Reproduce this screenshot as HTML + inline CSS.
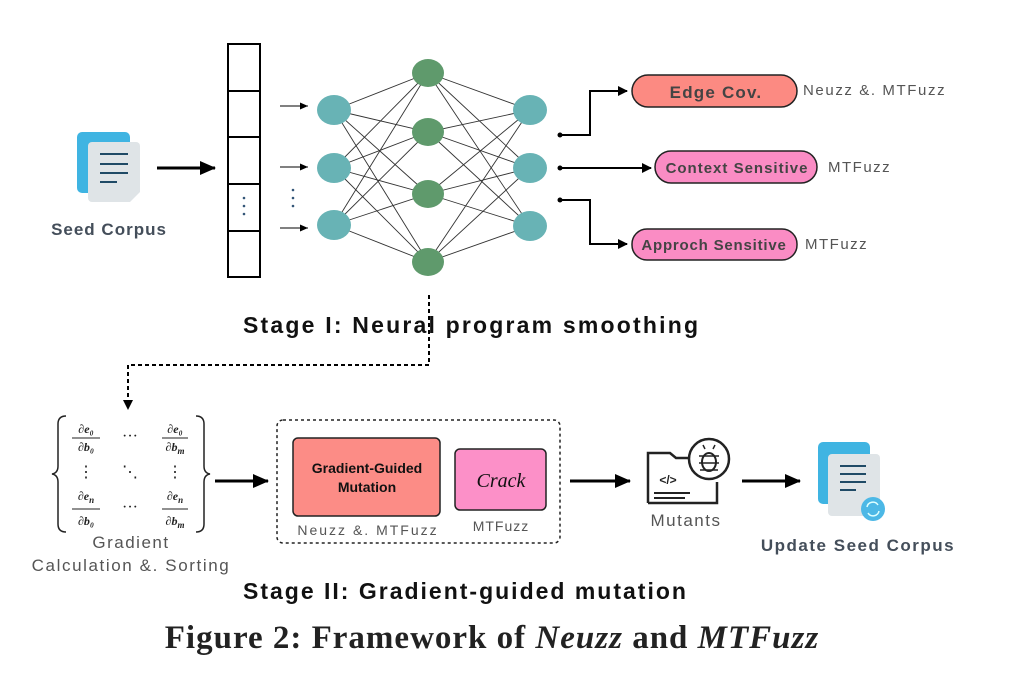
<!DOCTYPE html>
<html><head><meta charset="utf-8"><style>
html,body{margin:0;padding:0;background:#fff;}
svg{display:block;}
.s{font-family:"Liberation Sans","DejaVu Sans",sans-serif;}
</style></head><body>
<svg width="1019" height="685" viewBox="0 0 1019 685" xmlns="http://www.w3.org/2000/svg">
<defs>
<marker id="ah" markerWidth="10" markerHeight="10" refX="9" refY="5" orient="auto" markerUnits="userSpaceOnUse"><path d="M0,0 L10,5 L0,10 z" fill="#000"/></marker>
<marker id="ab" markerWidth="16" markerHeight="14" refX="15" refY="7" orient="auto" markerUnits="userSpaceOnUse"><path d="M0,0 L16,7 L0,14 z" fill="#000"/></marker>
<marker id="as" markerWidth="8" markerHeight="7" refX="8" refY="3.5" orient="auto" markerUnits="userSpaceOnUse"><path d="M0,0 L8,3.5 L0,7 z" fill="#000"/></marker>
</defs>
<!-- Seed corpus -->
<rect x="77" y="132" width="53" height="61" rx="5" fill="#3fb4e2"/>
<path d="M88,146 a4,4 0 0 1 4,-4 h44 a4,4 0 0 1 4,4 v46 l-10,10 h-38 a4,4 0 0 1 -4,-4 z" fill="#dfe4e7"/>
<g stroke="#1f4a66" stroke-width="2"><line x1="100" y1="154" x2="128" y2="154"/><line x1="100" y1="164" x2="128" y2="164"/><line x1="100" y1="173" x2="128" y2="173"/><line x1="100" y1="182" x2="117" y2="182"/></g>
<text x="109" y="235" text-anchor="middle" class="s" font-size="17" font-weight="bold" fill="#444e5a" letter-spacing="1">Seed Corpus</text>
<line x1="157" y1="168" x2="215" y2="168" stroke="#000" stroke-width="3" marker-end="url(#ab)"/>
<!-- vector -->
<g fill="none" stroke="#000" stroke-width="2"><rect x="228" y="44" width="32" height="233"/><line x1="228" y1="91" x2="260" y2="91"/><line x1="228" y1="137" x2="260" y2="137"/><line x1="228" y1="184" x2="260" y2="184"/><line x1="228" y1="231" x2="260" y2="231"/></g>
<g fill="#335577"><circle cx="244" cy="198" r="1.3"/><circle cx="244" cy="206" r="1.3"/><circle cx="244" cy="214" r="1.3"/><circle cx="293" cy="190" r="1.3"/><circle cx="293" cy="198" r="1.3"/><circle cx="293" cy="206" r="1.3"/></g>
<g stroke="#000" stroke-width="1"><line x1="280" y1="106" x2="308" y2="106" marker-end="url(#as)"/><line x1="280" y1="167" x2="308" y2="167" marker-end="url(#as)"/><line x1="280" y1="228" x2="308" y2="228" marker-end="url(#as)"/></g>
<!-- network edges -->
<g stroke="#333" stroke-width="0.9">
<line x1="334" y1="110" x2="428" y2="73"/><line x1="334" y1="110" x2="428" y2="132"/><line x1="334" y1="110" x2="428" y2="194"/><line x1="334" y1="110" x2="428" y2="262"/>
<line x1="334" y1="168" x2="428" y2="73"/><line x1="334" y1="168" x2="428" y2="132"/><line x1="334" y1="168" x2="428" y2="194"/><line x1="334" y1="168" x2="428" y2="262"/>
<line x1="334" y1="225" x2="428" y2="73"/><line x1="334" y1="225" x2="428" y2="132"/><line x1="334" y1="225" x2="428" y2="194"/><line x1="334" y1="225" x2="428" y2="262"/>
<line x1="530" y1="110" x2="428" y2="73"/><line x1="530" y1="110" x2="428" y2="132"/><line x1="530" y1="110" x2="428" y2="194"/><line x1="530" y1="110" x2="428" y2="262"/>
<line x1="530" y1="168" x2="428" y2="73"/><line x1="530" y1="168" x2="428" y2="132"/><line x1="530" y1="168" x2="428" y2="194"/><line x1="530" y1="168" x2="428" y2="262"/>
<line x1="530" y1="226" x2="428" y2="73"/><line x1="530" y1="226" x2="428" y2="132"/><line x1="530" y1="226" x2="428" y2="194"/><line x1="530" y1="226" x2="428" y2="262"/>
</g>
<g fill="#68b3b5"><ellipse cx="334" cy="110" rx="17" ry="15"/><ellipse cx="334" cy="168" rx="17" ry="15"/><ellipse cx="334" cy="225" rx="17" ry="15"/><ellipse cx="530" cy="110" rx="17" ry="15"/><ellipse cx="530" cy="168" rx="17" ry="15"/><ellipse cx="530" cy="226" rx="17" ry="15"/></g>
<g fill="#5f9a6c"><ellipse cx="428" cy="73" rx="16" ry="14"/><ellipse cx="428" cy="132" rx="16" ry="14"/><ellipse cx="428" cy="194" rx="16" ry="14"/><ellipse cx="428" cy="262" rx="16" ry="14"/></g>
<!-- outputs -->
<g stroke="#000" stroke-width="2" fill="none">
<path d="M560,135 H590 V91 H627" marker-end="url(#ah)"/>
<path d="M560,168 H651" marker-end="url(#ah)"/>
<path d="M560,200 H590 V244 H627" marker-end="url(#ah)"/>
</g>
<g fill="#000"><circle cx="560" cy="135" r="2.5"/><circle cx="560" cy="168" r="2.5"/><circle cx="560" cy="200" r="2.5"/></g>
<rect x="632" y="75" width="165" height="32" rx="16" fill="#fc8a82" stroke="#222" stroke-width="1.5"/>
<text x="716" y="98" text-anchor="middle" class="s" font-size="17" font-weight="bold" fill="#444" letter-spacing="1.2">Edge Cov.</text>
<rect x="655" y="151" width="162" height="32" rx="16" fill="#fa8cc4" stroke="#222" stroke-width="1.5"/>
<text x="737" y="173" text-anchor="middle" class="s" font-size="15" font-weight="bold" fill="#444" letter-spacing="1">Context Sensitive</text>
<rect x="632" y="229" width="165" height="31" rx="15" fill="#fa8cc4" stroke="#222" stroke-width="1.5"/>
<text x="714" y="250" text-anchor="middle" class="s" font-size="15" font-weight="bold" fill="#444" letter-spacing="0.8">Approch Sensitive</text>
<text x="803" y="95" class="s" font-size="15" fill="#555" letter-spacing="1.6">Neuzz &amp;. MTFuzz</text>
<text x="828" y="172" class="s" font-size="15" fill="#555" letter-spacing="1.5">MTFuzz</text>
<text x="805" y="249" class="s" font-size="15" fill="#555" letter-spacing="1.5">MTFuzz</text>
<text x="243" y="333" class="s" font-size="23" font-weight="bold" fill="#111" letter-spacing="2.2">Stage I: Neural program smoothing</text>
<path d="M429,295 V365 H128 V406" fill="none" stroke="#000" stroke-width="2" stroke-dasharray="4,3"/>
<path d="M123,400 L128,410 L133,400 z" fill="#000"/>
<!-- matrix -->
<g font-family="Liberation Serif,serif" font-style="italic" font-weight="bold" font-size="12" fill="#222" text-anchor="middle">
<text x="86" y="433">∂e₀</text><text x="86" y="451">∂b₀</text>
<text x="175" y="433">∂e₀</text><text x="175" y="451">∂b<tspan font-size="9" dy="3">m</tspan></text>
<text x="86" y="500">∂e<tspan font-size="9" dy="3">n</tspan></text><text x="86" y="525">∂b₀</text>
<text x="175" y="500">∂e<tspan font-size="9" dy="3">n</tspan></text><text x="175" y="525">∂b<tspan font-size="9" dy="3">m</tspan></text>
</g>
<g stroke="#222" stroke-width="1"><line x1="72" y1="438" x2="100" y2="438"/><line x1="162" y1="438" x2="188" y2="438"/><line x1="72" y1="509" x2="100" y2="509"/><line x1="162" y1="509" x2="188" y2="509"/></g>
<g font-family="Liberation Serif,serif" font-size="16" fill="#222" text-anchor="middle"><text x="130" y="441">···</text><text x="130" y="512">···</text><text x="86" y="477">⋮</text><text x="175" y="477">⋮</text><text x="130" y="477">⋱</text></g>
<path d="M66,416 Q58,416 58,424 V466 Q58,473 52,474 Q58,475 58,482 V524 Q58,532 66,532" fill="none" stroke="#222" stroke-width="1.5"/>
<path d="M196,416 Q204,416 204,424 V466 Q204,473 210,474 Q204,475 204,482 V524 Q204,532 196,532" fill="none" stroke="#222" stroke-width="1.5"/>
<text x="131" y="548" text-anchor="middle" class="s" font-size="17" fill="#555" letter-spacing="1.5">Gradient</text>
<text x="131" y="571" text-anchor="middle" class="s" font-size="17" fill="#555" letter-spacing="1.6">Calculation &amp;. Sorting</text>
<line x1="215" y1="481" x2="268" y2="481" stroke="#000" stroke-width="3" marker-end="url(#ab)"/>
<rect x="277" y="420" width="283" height="123" rx="6" fill="none" stroke="#222" stroke-width="1.5" stroke-dasharray="3,3"/>
<rect x="293" y="438" width="147" height="78" rx="5" fill="#fc8c86" stroke="#222" stroke-width="1.5"/>
<text x="367" y="473" text-anchor="middle" class="s" font-size="14" font-weight="bold" fill="#111">Gradient-Guided</text>
<text x="367" y="492" text-anchor="middle" class="s" font-size="14" font-weight="bold" fill="#111">Mutation</text>
<rect x="455" y="449" width="91" height="61" rx="5" fill="#fc90c8" stroke="#222" stroke-width="1.5"/>
<text x="501" y="487" text-anchor="middle" font-family="Liberation Serif,serif" font-style="italic" font-size="20" fill="#111">Crack</text>
<text x="368" y="535" text-anchor="middle" class="s" font-size="14" fill="#555" letter-spacing="2">Neuzz &amp;. MTFuzz</text>
<text x="501" y="531" text-anchor="middle" class="s" font-size="14" fill="#555" letter-spacing="1">MTFuzz</text>
<line x1="570" y1="481" x2="630" y2="481" stroke="#000" stroke-width="3" marker-end="url(#ab)"/>
<!-- mutants icon -->
<path d="M648,503 V453 H670 L676,458 H690" fill="none" stroke="#222" stroke-width="2.5"/>
<path d="M648,503 H717 V482" fill="none" stroke="#222" stroke-width="2.5"/>
<text x="668" y="484" text-anchor="middle" class="s" font-size="12" font-weight="bold" fill="#222">&lt;/&gt;</text>
<g stroke="#222" stroke-width="2"><line x1="654" y1="493" x2="690" y2="493"/><line x1="654" y1="498" x2="685" y2="498"/></g>
<circle cx="709" cy="459" r="20" fill="#fff" stroke="#222" stroke-width="2.5"/>
<ellipse cx="709" cy="462" rx="7" ry="9" fill="none" stroke="#222" stroke-width="2"/>
<g stroke="#222" stroke-width="1.5"><line x1="699" y1="456" x2="719" y2="456"/><line x1="699" y1="463" x2="719" y2="463"/><line x1="700" y1="470" x2="718" y2="470"/><line x1="705" y1="449" x2="703" y2="445"/><line x1="713" y1="449" x2="715" y2="445"/></g>
<text x="686" y="526" text-anchor="middle" class="s" font-size="17" fill="#555" letter-spacing="1.5">Mutants</text>
<line x1="742" y1="481" x2="800" y2="481" stroke="#000" stroke-width="3" marker-end="url(#ab)"/>
<!-- update seed corpus -->
<rect x="818" y="442" width="52" height="62" rx="5" fill="#3fb4e2"/>
<path d="M828,458 a4,4 0 0 1 4,-4 h44 a4,4 0 0 1 4,4 v58 h-48 a4,4 0 0 1 -4,-4 z" fill="#dfe4e7"/>
<g stroke="#1f4a66" stroke-width="2"><line x1="840" y1="466" x2="866" y2="466"/><line x1="840" y1="474" x2="866" y2="474"/><line x1="840" y1="482" x2="866" y2="482"/><line x1="840" y1="490" x2="856" y2="490"/></g>
<circle cx="873" cy="509" r="12" fill="#4cb8e6"/>
<path d="M867,507 a6,6 0 0 1 11,-2 M879,511 a6,6 0 0 1 -11,2" fill="none" stroke="#dff" stroke-width="1.5"/>
<text x="858" y="551" text-anchor="middle" class="s" font-size="17" font-weight="bold" fill="#444e5a" letter-spacing="1.5">Update Seed Corpus</text>
<text x="243" y="599" class="s" font-size="23" font-weight="bold" fill="#111" letter-spacing="2">Stage II: Gradient-guided mutation</text>
<text x="492" y="648" text-anchor="middle" font-family="Liberation Serif,serif" font-size="33" font-weight="bold" fill="#222" letter-spacing="1">Figure 2: Framework of <tspan font-style="italic">Neuzz</tspan> and <tspan font-style="italic">MTFuzz</tspan></text>
</svg>
</body></html>
